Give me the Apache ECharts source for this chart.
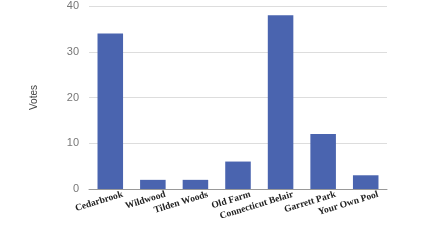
<!DOCTYPE html>
<html><head><meta charset="utf-8">
<script src="https://cdn.jsdelivr.net/npm/echarts@6/dist/echarts.min.js"></script>
<style>html,body{margin:0;padding:0;background:#fff}#c{width:425px;height:244px}</style>
</head><body><div id="c"></div>
<script>
const categories = ['Cedarbrook','Wildwood','Tilden Woods','Old Farm','Connecticut Belair','Garrett Park','Your Own Pool'];
const votes = [34, 2, 2, 6, 38, 12, 3];
const yTicks = [0, 10, 20, 30, 40];
const chart = echarts.init(document.getElementById('c'));
chart.setOption({
  animation: false,
  grid: {left: 89, right: 38, top: 6, bottom: 55},
  xAxis: {
    type: 'category', data: categories,
    axisLine: {lineStyle: {color: '#999'}},
    axisTick: {show: false},
    axisLabel: {interval: 0, rotate: 17, margin: 9, padding: [0, -13, 0, 0], color: '#222', fontFamily: 'Liberation Serif', fontWeight: 'bold', fontSize: 9.5}
  },
  yAxis: {
    type: 'value', min: yTicks[0], max: yTicks[yTicks.length-1], interval: 10,
    name: 'Votes', nameLocation: 'middle', nameGap: 50,
    nameTextStyle: {color: '#444', fontFamily: 'Liberation Sans', fontSize: 10},
    axisLine: {show: false}, axisTick: {show: false},
    axisLabel: {color: '#777', fontFamily: 'Liberation Sans', fontSize: 11, margin: 10},
    splitLine: {lineStyle: {color: '#ddd'}}
  },
  series: [{type: 'bar', data: votes, barWidth: '60%', itemStyle: {color: '#4a64af'}}]
});
</script></body></html>
